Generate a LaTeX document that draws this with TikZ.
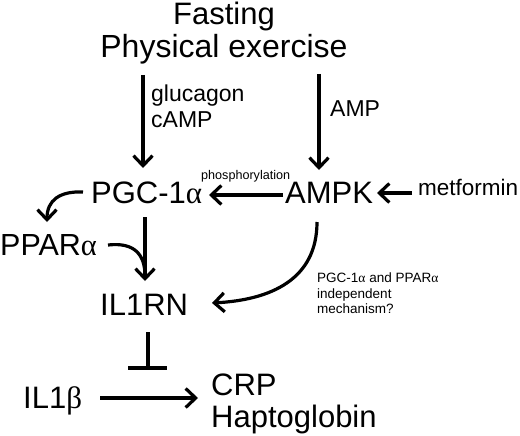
\documentclass[tikz,border=0pt]{standalone}
\usepackage{fontspec}
\setmainfont{Liberation Sans}
\newfontfamily\grk{Liberation Serif}
\usetikzlibrary{arrows.meta}
\newcommand{\fsz}[1]{\fontsize{#1}{#1}\selectfont}
\newcommand{\al}{{\grk α}}
\newcommand{\be}{{\grk β}}
\begin{document}
\begin{tikzpicture}[x=1pt,y=-1pt,
  lbl/.style={inner sep=0pt,anchor=base west},
  big/.style={lbl,font=\fsz{31}},
  mid/.style={lbl,font=\fsz{23}},
  small/.style={lbl,font=\fsz{13.5}},
  arr/.style={line width=3.2pt,-{Straight Barb[length=10pt,width=19pt,line width=3.2pt]}},
  ln/.style={line width=3.2pt}]
\useasboundingbox (0,0) rectangle (520,436);
\node[inner sep=0pt,anchor=base,font=\fsz{31}] (fasting) at (224,25) {Fasting};
\node[inner sep=0pt,anchor=base,font=\fsz{32}] (phys) at (224,58) {Physical exercise};
\node[mid] (glu) at (151,102) {glucagon};
\node[mid] (camp) at (151,128) {cAMP};
\node[mid] (amp) at (330,117) {AMP};
\node[big] (pgc) at (91,203) {PGC-1\al};
\node[big] (ampk) at (285,203) {AMPK};
\node[lbl,font=\fsz{22.5}] (metf) at (418,195) {metformin};
\node[lbl,font=\fsz{12.6}] (phos) at (201,179) {phosphorylation};
\node[lbl,font=\fsz{30.5}] (ppar) at (0,255) {PPAR\al};
\node[big] (il1rn) at (100,315) {IL1RN};
\node[small] (n1) at (317,282) {PGC-1\al{} and PPAR\al};
\node[small] (n2) at (317,298) {independent};
\node[small] (n3) at (317,313) {mechanism?};
\node[big] (il1b) at (23,408) {IL1\be};
\node[big] (crp) at (211,395) {CRP};
\node[big] (hapto) at (211,427) {Haptoglobin};
% connectors
\coordinate (c1) at (143,75);
\coordinate (c2) at (143,168);
\draw[arr] (c1) -- (c2);
\coordinate (d1) at (319,74);
\coordinate (d2) at (319,170);
\draw[arr] (d1) -- (d2);
\coordinate (e1) at (283,195);
\coordinate (e2) at (209,195);
\draw[arr] (e1) -- (e2);
\coordinate (f1) at (412,193);
\coordinate (f2) at (377,193);
\draw[arr] (f1) -- (f2);
\coordinate (g1) at (83,192);
\coordinate (g2) at (47,222);
\draw[arr] (g1) .. controls (60,191) and (47,200) .. (g2);
\coordinate (h1) at (145,217);
\coordinate (h2) at (145,281);
\draw[arr] (h1) -- (h2);
\coordinate (i1) at (108,245);
\draw[ln] (i1) .. controls (135,242) and (145,255) .. (145,276);
\coordinate (j1) at (317,222);
\coordinate (j2) at (212,303);
\draw[arr] (j1) .. controls (317,280) and (270,300) .. (j2);
\coordinate (k1) at (148,332);
\coordinate (k2) at (148,368);
\draw[ln] (k1) -- (k2);
\draw[line width=4.5pt] (128,368) -- (167,368);
\coordinate (l1) at (100,398);
\coordinate (l2) at (198,398);
\draw[arr] (l1) -- (l2);
\end{tikzpicture}
\end{document}
